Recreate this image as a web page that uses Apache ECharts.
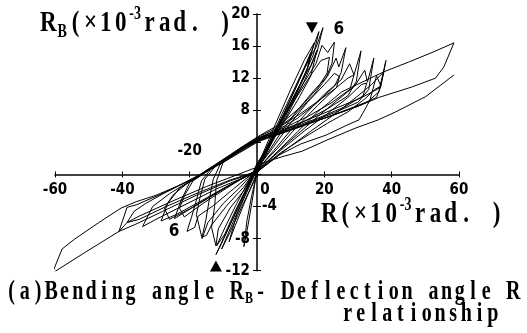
<!DOCTYPE html>
<html>
<head>
<meta charset="utf-8">
<script src="https://cdn.jsdelivr.net/npm/echarts@6/dist/echarts.min.js"></script>
<style>
html,body{margin:0;padding:0;background:#fff;}
#c{width:527px;height:333px;}
</style>
</head>
<body>
<div id="c"></div>
<script>
// Tick values that carry a printed label, split by where the label sits
const xLabelsBelow = [-60, -40, 0, 20, 40, 60];
const xLabelsAbove = [-20];
const yLabelsLeft = [20, 16, 12, 8, -8, -12];
const yLabelsRight = [-4];

// Steep early cycles (R, RB) in 1e-3 rad
const loopS1 = [[0,0.2],[4,3.8],[8,7.6],[12,11.2],[15.5,14.6],[18.4,17.8],[16.8,15],[13,11.4],[8,7.2],[3.5,3.6],[0,0.6],[-3,-2.2],[-6,-5],[-8.3,-8.4],[-6.5,-6.4],[-3.5,-3.3],[0,0.2]];
const loopS2 = [[0,0.6],[4.5,4.4],[9,8.5],[13,12.2],[16,14.8],[17.5,15.8],[19.6,18.3],[17.8,15.2],[14,11.6],[9,7.4],[4,3.8],[0,1],[-3.5,-2.2],[-7,-5.4],[-10,-8],[-12.2,-10],[-10.5,-8.6],[-7.5,-5.8],[-4,-2.6],[0,0.6]];
const loopS3 = [[0,1.2],[3,3.5],[6.5,6.4],[10,9],[13.5,11.8],[16,13.6],[17.8,15.5],[16,12.3],[12,9.2],[7,5.8],[3,3.2],[0,1.4],[-3,-1.6],[-6.5,-4.6],[-9.5,-7.4],[-12,-8.9],[-9.5,-6.6],[-6,-3.6],[-3,-1.2],[0,1.2]];
const loopS4 = [[0,0.9],[5,5.8],[10,10.6],[14,14.2],[17,16.4],[15,13.2],[11,9.6],[6,5.6],[1,1.8],[-1.5,-2.5],[-3,-5.8],[-3.9,-9],[-2.6,-6.2],[-1,-2.2],[0,0.9]];
const loopS5 = [[0,0.8],[3.5,3.9],[7.5,7.6],[11,10.6],[14,13.3],[16,15.2],[14.6,12.6],[10.5,9],[6,5.2],[2,2],[-1,-1],[-4.5,-4],[-8,-7.2],[-10.5,-9.3],[-8.6,-7.4],[-5,-3.9],[-2,-1],[0,0.8]];

// Widening cycles
const loopF1 = [[0,0.8],[3,3.2],[6,5.8],[10,8.6],[14,11.5],[17.5,13.8],[19.3,16.1],[21,15.2],[23,16.5],[22.3,13.9],[20.5,12],[17,10],[11,7.3],[5,5.4],[0,4.4],[-6,2.7],[-11,1.2],[-13,-0.6],[-14.2,-3.2],[-15.2,-5.7],[-16.3,-7.8],[-15,-7.6],[-13.5,-6.3],[-9,-3.9],[-4,-1.6],[0,0.8]];
const loopF1b = [[0,1.1],[4,4],[8,7.2],[12,9.8],[16,12.4],[19,14.2],[21.5,14.6],[20.8,12.6],[18,10.8],[13,8.4],[7,6.3],[1,4.9],[-5,3.3],[-10,1.6],[-12,-0.8],[-12.6,-4],[-13.5,-6.6],[-12.2,-8.9],[-11.5,-6.8],[-8,-4.2],[-3.5,-1.8],[0,1.1]];
const loopF2 = [[0,0.6],[4,3.2],[8,5.8],[12,8],[17,10.5],[21,12.3],[23.5,14.5],[24.3,13.4],[26.4,15.8],[25,12.7],[23,11],[18,9],[12,7],[6,5.5],[0,4.5],[-7,2.6],[-13,1],[-16.5,-0.8],[-18,-3.2],[-19.5,-5.4],[-20.8,-7.1],[-18.5,-6.6],[-17.5,-5.2],[-13,-3.9],[-7,-1.8],[0,0.6]];
const loopF2b = [[0,0.7],[5,3.5],[10,6.4],[15,9],[20,11.2],[23,12.6],[24.5,12.2],[23.6,10.8],[19,9.4],[13,7.6],[7,6],[1,4.8],[-6,3],[-12,1.2],[-15.5,-0.6],[-17,-3],[-18,-5],[-16.3,-8],[-14.6,-6],[-10,-3.6],[-5,-1.6],[0,0.7]];
const loopF3 = [[0,0.5],[5,3],[10,5.5],[15,7.8],[20,10],[25,11.8],[27.5,13.8],[28.8,12.4],[30.9,15.4],[29.5,11.6],[27,9.8],[21,8.2],[14,6.6],[7,5.3],[0,4.4],[-8,2.3],[-15,0.5],[-20,-1],[-22.5,-3.2],[-24.5,-5.5],[-21,-4.6],[-15,-3.1],[-8,-1.3],[0,0.5]];
const loopF3b = [[0,0.6],[6,3.2],[12,6],[18,8.6],[23.5,10.8],[27,12],[28.8,12.4],[27.6,10.6],[22,8.9],[15,7.2],[8,5.8],[1,4.6],[-7,2.6],[-14,0.6],[-19,-0.8],[-21.5,-2.6],[-23,-4.2],[-21.6,-5.3],[-16,-3.6],[-9,-1.7],[-4,-0.4],[0,0.6]];
const loopF4 = [[0,0.4],[6,2.8],[12,5],[18,7.2],[24,9.3],[29,11],[32,13],[32.8,11.5],[34.7,14.5],[33.2,10.6],[30,9],[23,7.7],[15,6.4],[7,5.2],[0,4.2],[-9,2],[-17,-0.2],[-23,-1.7],[-26.5,-3.6],[-28.5,-5.8],[-24,-5],[-17,-3.4],[-9,-1.5],[0,0.4]];
const loopF4b = [[0,0.5],[7,3],[14,5.4],[21,7.6],[27,9.6],[31,11.2],[32.6,11.4],[31.5,9.8],[26,8.4],[18,7],[10,5.8],[2,4.7],[-6,3],[-14,0.8],[-21,-1.2],[-25,-2.6],[-27.5,-4.2],[-26,-5.6],[-20,-4.3],[-12,-2.3],[-5,-0.6],[0,0.5]];
const loopF5 = [[0,0.3],[6.5,2.4],[13,3.8],[20.5,4.9],[27,6.2],[30.3,6.8],[33.5,9.2],[35.5,12.3],[36.8,11],[38.3,14.2],[36.2,10.3],[33,9.1],[25,7.8],[16,6.4],[8,5.2],[0,4.1],[-10,1.6],[-19,-0.6],[-26,-2.4],[-31,-4],[-34,-6.5],[-30,-5.6],[-22,-3.9],[-12,-1.8],[0,0.3]];
const loopF5b = [[0,0.4],[7,2.7],[14,4.6],[21,6.4],[27,7.8],[32,9.4],[35,10.6],[36.8,11],[35.5,9.6],[30,8.5],[22,7.3],[13,6],[5,4.9],[0,4.3],[-9,2],[-18,-0.3],[-27,-2.2],[-33,-3.6],[-36.5,-4.6],[-38.6,-6],[-35,-5.6],[-27,-4],[-17,-2.2],[-8,-0.7],[0,0.4]];
const loopF6 = [[0,0.3],[8,2.9],[16,5.4],[24,7.8],[30,9.8],[34,11.2],[37.7,12.8],[36.5,10.8],[31.2,9.6],[22,8],[12,6.3],[3,4.8],[-6,2.8],[-16,0.2],[-26,-2],[-35.9,-3.8],[-38.6,-4.1],[-41,-7.1],[-36,-6.2],[-28,-4.6],[-18,-2.6],[-8,-0.8],[0,0.3]];

// Largest cycle and the final reloading branch
const loopBig = [[0,0.2],[6,2.8],[12,5.3],[18,7.8],[25.2,10.3],[31.2,11.5],[37.7,12.8],[45,14],[52,15.2],[58.5,16.4],[55.5,13.4],[53,12],[46,10.9],[36.2,9.6],[31.2,8.7],[21.4,7.2],[12,5.9],[4,4.7],[0,4],[-10,1.5],[-20,-0.8],[-30,-2.6],[-35.9,-3.4],[-40.4,-4.2],[-47,-6],[-54.3,-8.1],[-57.9,-9.3],[-60.8,-12.3],[-51,-9.7],[-41,-7.1],[-38.6,-6],[-35,-5.2],[-25,-3.3],[-15,-1.5],[-5,0.1],[0.6,1.0],[2.1,1.5],[7.4,2.2],[13.4,2.9],[21.4,4.4],[29.4,5.8],[36,6.8],[41.2,7.8],[50.1,9.7],[58.5,12.4]];

// Cycle markers and the cycle number printed beside them
const markerDown = [[16.3, 18.3]];
const markerUp = [[-12.2, -11.4]];
const cycleNotes = [[24.3, 18.0], [-24.6, -7.1]];
const cycleNoteText = '6';

const loops = [loopS1, loopS2, loopS3, loopS4, loopS5, loopF1, loopF1b, loopF2, loopF2b,
  loopF3, loopF3b, loopF4, loopF4b, loopF5, loopF5b, loopF6, loopBig];

const tickFont = "'Liberation Sans Narrow','DejaVu Sans Condensed','Liberation Sans',sans-serif";
const textFamily = "'Liberation Serif','DejaVu Serif',serif";

// Plot area in pixels; the axes cross at (0, 0) so they are shifted into the plot
const GRID = {left: 55, right: 68, top: 14, bottom: 62.3};
const X_RANGE = [-60, 60], Y_RANGE = [-12, 20];
const plotW = 527 - GRID.left - GRID.right;
const plotH = 333 - GRID.top - GRID.bottom;
const xAxisShift = -plotH * (0 - Y_RANGE[0]) / (Y_RANGE[1] - Y_RANGE[0]);
const yAxisShift = -plotW * (0 - X_RANGE[0]) / (X_RANGE[1] - X_RANGE[0]);

const chart = echarts.init(document.getElementById('c'), null, {renderer: 'canvas'});

const tickLabelStyle = {color: '#000', fontFamily: tickFont, fontWeight: 'bold', fontSize: 15};

const lineSeries = loops.map(function (d) {
  return {
    type: 'line', data: d, showSymbol: false, symbol: 'none', smooth: false,
    lineStyle: {color: '#000', width: 1}, silent: true, animation: false, z: 3
  };
});

// Fixed-pitch text: every character is centred in a cell of equal width
const measureCtx = document.createElement('canvas').getContext('2d');
function monoText(parts, size, pitch, lh, subSize, subLh) {
  const rich = {};
  const font = 'bold ' + size + 'px ' + textFamily;
  measureCtx.font = font;
  let text = '';
  parts.forEach(function (part) {
    if (part.sub || part.sup) {
      const key = part.sub ? 'sub' : 'sup';
      rich[key] = {
        fontFamily: textFamily, fontWeight: 'bold', fontSize: subSize, fill: '#000',
        lineHeight: part.sub ? subLh : lh - 4, verticalAlign: part.sub ? 'bottom' : 'top',
        padding: [0, 1, 0, 1]
      };
      text += '{' + key + '|' + (part.sub || part.sup) + '}';
      return;
    }
    part.text.split('').forEach(function (ch) {
      const key = 'c' + ch.charCodeAt(0);
      if (!rich[key]) {
        const w = measureCtx.measureText(ch).width;
        const l = Math.max(0, (pitch - w) / 2);
        rich[key] = {
          fontFamily: textFamily, fontWeight: 'bold', fontSize: size, fill: '#000',
          lineHeight: lh, padding: [0, Math.max(0, pitch - w - l), 0, l]
        };
      }
      text += '{' + key + '|' + ch + '}';
    });
  });
  return {text: text, rich: rich, verticalAlign: 'top', align: 'left'};
}

const option = {
  animation: false,
  backgroundColor: '#fff',
  grid: {left: GRID.left, right: GRID.right, top: GRID.top, bottom: GRID.bottom, containLabel: false},
  xAxis: [{
    type: 'value', min: X_RANGE[0], max: X_RANGE[1], interval: 20, position: 'bottom', offset: xAxisShift,
    axisLine: {onZero: false, lineStyle: {color: '#000', width: 1.5}},
    axisTick: {show: true, length: 3, lineStyle: {color: '#000', width: 1}},
    splitLine: {show: false},
    axisLabel: Object.assign({}, tickLabelStyle, {
      margin: 8, showMinLabel: true, showMaxLabel: true,
      formatter: function (v) {
        if (xLabelsBelow.indexOf(v) < 0) return '';
        if (v === 0) return '{z|0}';
        return String(v);
      },
      rich: {z: Object.assign({}, tickLabelStyle, {padding: [0, 0, 0, 16]})}
    })
  }, {
    type: 'value', min: X_RANGE[0], max: X_RANGE[1], interval: 20, position: 'bottom', offset: xAxisShift,
    axisLine: {show: false, onZero: false},
    axisTick: {show: true, inside: true, length: 3, lineStyle: {color: '#000', width: 1}},
    splitLine: {show: false},
    axisLabel: Object.assign({}, tickLabelStyle, {
      inside: true, margin: 16,
      formatter: function (v) { return xLabelsAbove.indexOf(v) >= 0 ? String(v) : ''; }
    })
  }],
  yAxis: [{
    type: 'value', min: Y_RANGE[0], max: Y_RANGE[1], interval: 4, position: 'left', offset: yAxisShift,
    axisLine: {onZero: false, lineStyle: {color: '#000', width: 1.5}},
    axisTick: {show: true, length: 4, lineStyle: {color: '#000', width: 1}},
    splitLine: {show: false},
    axisLabel: Object.assign({}, tickLabelStyle, {
      margin: 7, showMinLabel: true, showMaxLabel: true,
      formatter: function (v) { return yLabelsLeft.indexOf(v) >= 0 ? String(v) : ''; }
    })
  }, {
    type: 'value', min: Y_RANGE[0], max: Y_RANGE[1], interval: 4, position: 'left', offset: yAxisShift,
    axisLine: {show: false, onZero: false},
    axisTick: {show: true, inside: true, length: 4, lineStyle: {color: '#000', width: 1}},
    splitLine: {show: false},
    axisLabel: Object.assign({}, tickLabelStyle, {
      inside: true, margin: 5,
      formatter: function (v) { return yLabelsRight.indexOf(v) >= 0 ? String(v) : ''; }
    })
  }],
  series: lineSeries.concat([{
    type: 'scatter', data: markerDown, symbol: 'triangle', symbolSize: [12, 11], symbolRotate: 180,
    itemStyle: {color: '#000', opacity: 1, borderWidth: 0}, emphasis: {disabled: true}, silent: true, z: 5
  }, {
    type: 'scatter', data: markerUp, symbol: 'triangle', symbolSize: [12, 11],
    itemStyle: {color: '#000', opacity: 1, borderWidth: 0}, emphasis: {disabled: true}, silent: true, z: 5
  }, {
    type: 'scatter', data: cycleNotes, symbolSize: 0, silent: true, z: 6,
    itemStyle: {color: '#000', opacity: 1}, emphasis: {disabled: true},
    label: {show: true, position: 'inside', formatter: cycleNoteText, opacity: 1,
      color: '#000', textBorderWidth: 0, fontFamily: tickFont, fontWeight: 'bold', fontSize: 17}
  }]),
  graphic: [{
    type: 'text', x: 40, y: 5, scaleY: 1.3, silent: true,
    style: monoText([{text: 'R'}, {sub: 'B'}, {text: '(×10'}, {sup: '-3'}, {text: 'rad. )'}], 23, 15.1, 28, 14, 21)
  }, {
    type: 'text', x: 321, y: 196, scaleY: 1.3, silent: true,
    style: monoText([{text: 'R(×10'}, {sup: '-3'}, {text: 'rad. )'}], 23, 15.3, 28, 14, 21)
  }, {
    type: 'text', x: 5, y: 276, scaleY: 1.4, silent: true,
    style: monoText([{text: '(a)Bending angle R'}, {sub: 'B'}, {text: '- Deflection angle R'}], 20, 13.2, 22, 12, 17)
  }, {
    type: 'text', x: 341, y: 298, scaleY: 1.4, silent: true,
    style: monoText([{text: 'relationship'}], 20, 13.2, 22, 12, 17)
  }]
};

chart.setOption(option);
</script>
</body>
</html>
